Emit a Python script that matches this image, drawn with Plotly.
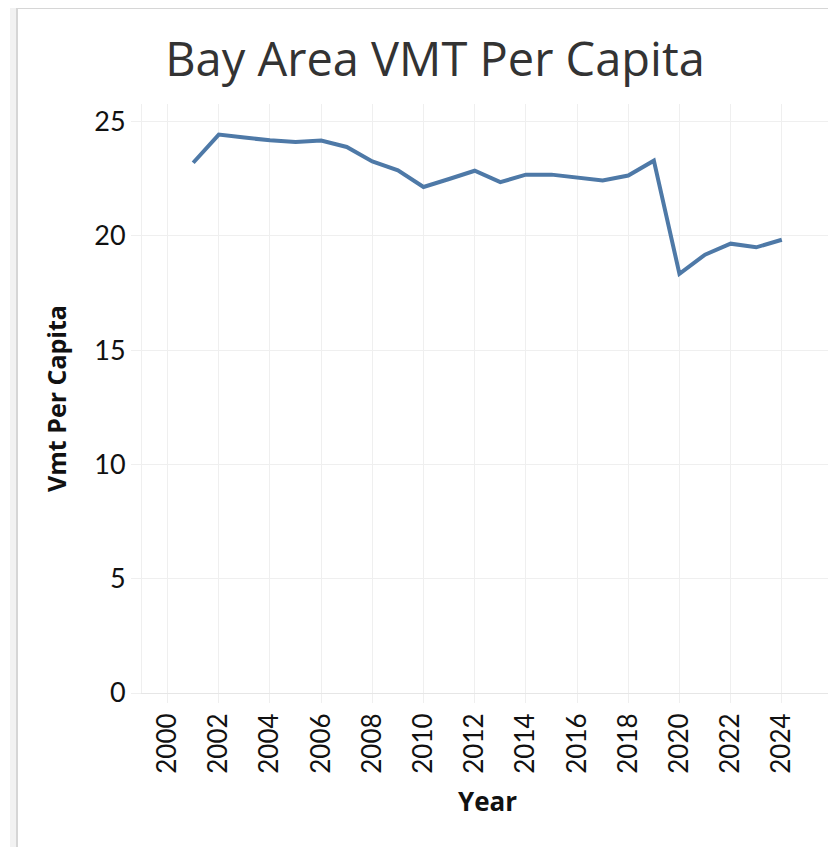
import plotly.graph_objects as go

years = list(range(2001, 2025))
vmt_per_capita = [23.20, 24.43, 24.30, 24.18, 24.11, 24.17, 23.89, 23.26, 22.87, 22.14,
                  22.49, 22.85, 22.35, 22.68, 22.68, 22.53, 22.42, 22.64, 23.29, 18.34,
                  19.18, 19.66, 19.50, 19.83]
x_ticks = list(range(2000, 2026, 2))
y_ticks = [0, 5, 10, 15, 20, 25]

# page is offset by the 8px body margin
W, H = 836, 847
L, R, T, B = 134, 11, 96, 162
pw, ph = W - L - R, H - T - B

def px(x):
    return (x - L) / pw

def py(y):
    return (H - B - y) / ph

fig = go.Figure()
fig.add_trace(go.Scatter(
    x=years, y=vmt_per_capita, mode="lines",
    line=dict(color="#4e79a7", width=4),
    hoverinfo="x+y", showlegend=False,
))

grid = "#efefef"
fig.update_layout(
    width=W, height=H,
    margin=dict(l=L, r=R, t=T, b=B, autoexpand=False),
    paper_bgcolor="white", plot_bgcolor="white",
    title=dict(text="Bay Area VMT Per Capita", x=427 / W, xanchor="center",
               y=1 - 52 / H, yanchor="middle",
               font=dict(family="Open Sans", size=47, color="#333333")),
    xaxis=dict(range=[1999, 2026], tickmode="array", tickvals=x_ticks,
               ticktext=[str(v) for v in x_ticks], tickangle=-90,
               showgrid=True, gridcolor=grid, gridwidth=1,
               ticks="outside", ticklen=9, tickcolor=grid,
               showline=True, linecolor="#e6e6e6", linewidth=1,
               zeroline=False,
               tickfont=dict(family="Lato", size=26, color="#111111"),
               title=dict(text="<b>Year</b>", standoff=20,
                          font=dict(family="Open Sans", size=26, color="#111111"))),
    yaxis=dict(range=[0, 25.77], tickmode="array", tickvals=y_ticks,
               showgrid=True, gridcolor=grid, gridwidth=1,
               ticks="outside", ticklen=10, tickcolor=grid,
               showline=True, linecolor=grid, linewidth=1,
               zeroline=False,
               tickfont=dict(family="Lato", size=27, color="#111111"),
               title=dict(text="<b>Vmt Per Capita</b>", standoff=20,
                          font=dict(family="Open Sans", size=25, color="#111111"))),
)

# dashboard frame decoration
fig.add_shape(type="rect", xref="paper", yref="paper",
              x0=px(2), x1=px(8), y0=py(H), y1=py(0),
              fillcolor="#f2f2f2", line_width=0, layer="below")
fig.add_shape(type="line", xref="paper", yref="paper",
              x0=px(9), x1=px(9), y0=py(H), y1=py(0),
              line=dict(color="#d6d6d6", width=2))
fig.add_shape(type="line", xref="paper", yref="paper",
              x0=px(9), x1=px(W), y0=py(0), y1=py(0),
              line=dict(color="#d6d6d6", width=2))

fig.write_html("out.html")
